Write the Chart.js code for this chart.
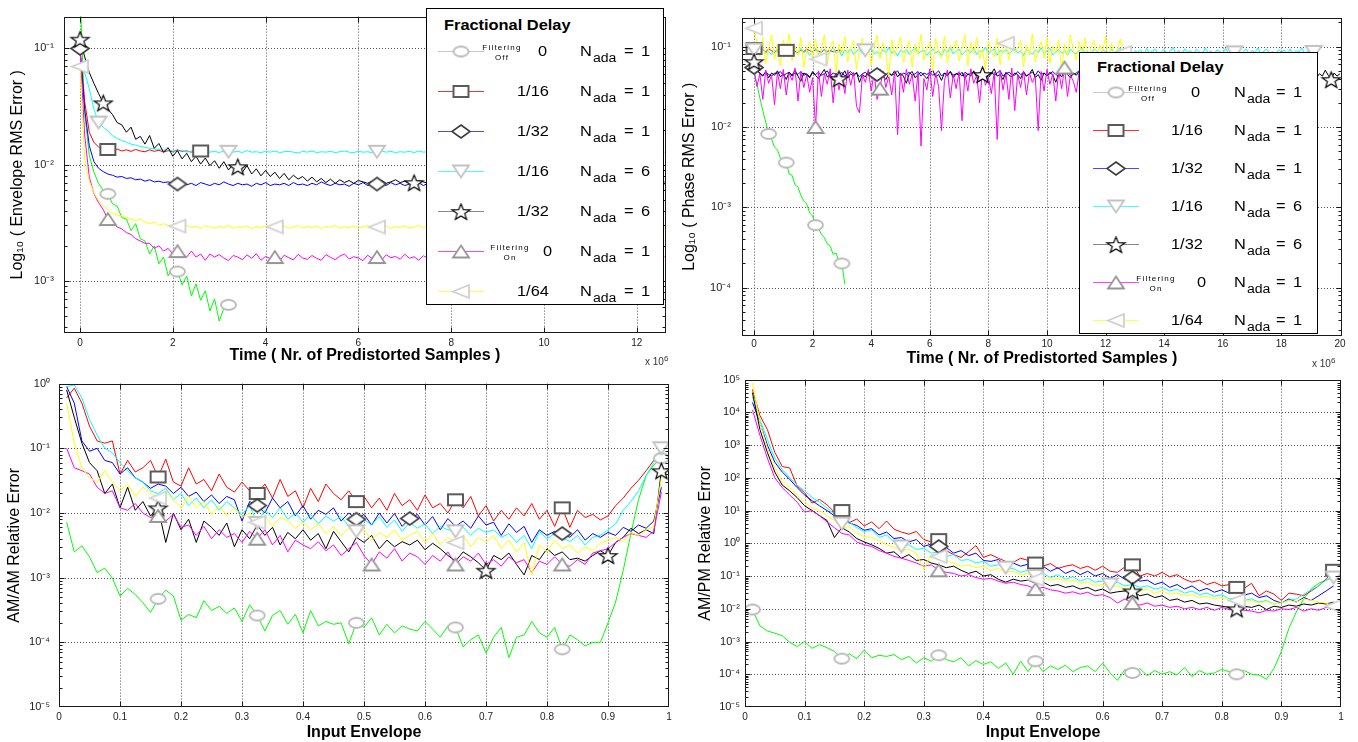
<!DOCTYPE html>
<html>
<head>
<meta charset="utf-8">
<script src="https://cdn.jsdelivr.net/npm/chart.js@4.4.1/dist/chart.umd.min.js"></script>
<style>
  html, body { margin: 0; padding: 0; background: #fff; }
  #page { position: relative; width: 1358px; height: 742px; overflow: hidden;
          font-family: "Liberation Sans", Arial, sans-serif; }
  .pane { position: absolute; }
  .legend { position: absolute; background: #fff; border: 1px solid #000; box-sizing: border-box; }
  .li { position: absolute; white-space: nowrap; line-height: 1; color: #000; }
  .sx { transform: scaleX(1.17); transform-origin: 0 50%; }
  .lg-title { font-weight: bold; font-size: 14px; }
  .lg-txt { font-size: 14px; }
  .lg-sub { font-size: 12px; }
  .lg-note { font-size: 8px; letter-spacing: 1.2px; width: 60px; text-align: center; }
  .mult { position: absolute; font-size: 10px; color: #333; white-space: nowrap; }
  .mult sup { font-size: 8px; }
</style>
</head>
<body>
<div id="page">
  <canvas id="cEnv" class="pane" style="left:0;top:0" width="680" height="368"></canvas>
  <canvas id="cPhase" class="pane" style="left:680px;top:0" width="678" height="368"></canvas>
  <canvas id="cAmAm" class="pane" style="left:0;top:368px" width="680" height="374"></canvas>
  <canvas id="cAmPm" class="pane" style="left:680px;top:368px" width="678" height="374"></canvas>
  <div class="mult" style="left:645px;top:354px">x 10<sup>6</sup></div>
  <div class="mult" style="left:1312px;top:356px">x 10<sup>6</sup></div>
</div>
<script>
// ---------------------------------------------------------------------------
// Sampling grids
// ---------------------------------------------------------------------------
const T_STEP = 0.1;          // time step of the RMS traces, in units of 10^6 samples
const ENV_X0 = 0.0125;       // first input-envelope bin
const ENV_DX = 0.0125;       // input-envelope bin width

// ---------------------------------------------------------------------------
// Envelope RMS error vs time
// ---------------------------------------------------------------------------
const envOff = [0.30,0.028,0.012,0.0086,0.0069,0.0060,0.0056,0.0046,0.0044,0.0035,
  0.0034,0.0027,0.0031,0.0023,0.0022,0.0017,0.0020,0.0014,0.0016,0.0011,
  0.0013,0.0012,0.00092,0.0011,0.00074,0.00094,0.00068,0.00082,0.00055,0.00070,
  0.00045,0.00058,0.00062];
const envD16 = [0.10,0.035,0.019,0.0155,0.0142,0.0137,0.0135,0.0133,0.0136,0.0131,
  0.0134,0.0130,0.0135,0.0131,0.0129,0.0134,0.0130,0.0133,0.0128,0.0132,
  0.0129,0.0134,0.0130,0.0131,0.0128,0.0132,0.0131,0.0130];
const envD32 = [0.10,0.030,0.0145,0.0106,0.0093,0.0087,0.0083,0.0081,0.0078,0.0079,
  0.0076,0.0077,0.0074,0.0075,0.0072,0.0074,0.0071,0.0072,0.0070,0.0071,
  0.0069,0.0068,0.0070,0.0067,0.0069,0.0066,0.0070,0.0068,0.0066,0.0069,
  0.0067,0.0071,0.0068,0.0066,0.0069,0.0067,0.0068,0.0065,0.0069,0.0067,
  0.0070,0.0066,0.0068,0.0067,0.0069,0.0066,0.0070,0.0067,0.0068,0.0066,
  0.0069,0.0067,0.0071,0.0068,0.0066,0.0069,0.0067,0.0068,0.0065,0.0069,
  0.0067,0.0070,0.0066,0.0068,0.0068,0.0069,0.0066,0.0070,0.0067,0.0069,
  0.0066,0.0068,0.0067,0.0070,0.0066,0.0069,0.0068,0.0066,0.0069,0.0067,
  0.0070,0.0067,0.0068,0.0066,0.0069,0.0067,0.0071,0.0068,0.0066,0.0069,
  0.0067,0.0068,0.0066,0.0070,0.0067,0.0069,0.0066,0.0068,0.0067,0.0070,
  0.0066,0.0069,0.0067,0.0068,0.0066,0.0070,0.0067,0.0069,0.0068,0.0066,
  0.0069,0.0067,0.0070,0.0066,0.0068,0.0067,0.0069,0.0066,0.0070,0.0068,
  0.0067,0.0069,0.0066,0.0068,0.0067,0.0070,0.0068];
const envD16N6 = [0.080,0.062,0.045,0.030,0.023,0.021,0.0195,0.0178,0.0168,0.0161,
  0.0156,0.0150,0.0147,0.0143,0.0141,0.0138,0.0136,0.0135,0.0133,0.0134,
  0.0131,0.0130,0.0132,0.0128,0.0131,0.0129,0.0127,0.0131,0.0128,0.0130,
  0.0127,0.0131,0.0129,0.0128,0.0130,0.0127,0.0132,0.0128,0.0129,0.0127,
  0.0130,0.0128,0.0131,0.0127,0.0129,0.0130,0.0128,0.0126,0.0130,0.0128,
  0.0131,0.0127,0.0129,0.0128,0.0130,0.0127,0.0129,0.0131,0.0128,0.0127,
  0.0130,0.0128,0.0129,0.0127,0.0129,0.0131,0.0128,0.0130,0.0127,0.0129,
  0.0128,0.0130,0.0127,0.0131,0.0128,0.0129,0.0127,0.0130,0.0128,0.0131,
  0.0129,0.0127,0.0130,0.0128,0.0126,0.0130,0.0128,0.0131,0.0127,0.0129,
  0.0130,0.0128,0.0129,0.0127,0.0131,0.0128,0.0130,0.0127,0.0129,0.0128,
  0.0131,0.0127,0.0129,0.0130,0.0128,0.0127,0.0130,0.0128,0.0131,0.0129,
  0.0127,0.0130,0.0128,0.0129,0.0131,0.0127,0.0129,0.0128,0.0130,0.0127,
  0.0129,0.0131,0.0128,0.0130,0.0127,0.0129,0.0128];
const envD32N6 = [0.12,0.085,0.062,0.050,0.041,0.034,0.030,0.027,0.023,0.022,
  0.019,0.021,0.0165,0.0175,0.0150,0.0178,0.0138,0.0152,0.0128,0.0140,
  0.0118,0.0132,0.0112,0.0125,0.0106,0.0118,0.0101,0.0114,0.0098,0.0108,
  0.0093,0.0106,0.0090,0.0100,0.0096,0.0086,0.0098,0.0083,0.0092,0.0080,
  0.0089,0.0079,0.0086,0.0076,0.0084,0.0074,0.0081,0.0075,0.0079,0.0072,
  0.0078,0.0071,0.0076,0.0070,0.0075,0.0069,0.0074,0.0070,0.0073,0.0069,
  0.0073,0.0071,0.0069,0.0072,0.0070,0.0073,0.0069,0.0071,0.0074,0.0070,
  0.0072,0.0069,0.0070,0.0073,0.0071,0.0069,0.0072,0.0070,0.0073,0.0069,
  0.0071,0.0073,0.0070,0.0072,0.0069,0.0071,0.0074,0.0070,0.0072,0.0069,
  0.0073,0.0070,0.0071,0.0069,0.0072,0.0070,0.0073,0.0071,0.0069,0.0072,
  0.0070,0.0073,0.0069,0.0071,0.0072,0.0070,0.0074,0.0069,0.0071,0.0070,
  0.0072,0.0069,0.0073,0.0070,0.0071,0.0069,0.0072,0.0070,0.0073,0.0071,
  0.0069,0.0072,0.0070,0.0071,0.0073,0.0070,0.0071];
const envOn = [0.10,0.018,0.0078,0.0056,0.0047,0.0041,0.0034,0.0033,0.0029,0.0028,
  0.0026,0.0025,0.0023,0.0022,0.0021,0.0021,0.0019,0.0020,0.0018,0.0019,
  0.0017,0.0018,0.0017,0.0016,0.0018,0.0016,0.0017,0.0015,0.0017,0.0016,
  0.00168,0.00157,0.00149,0.00165,0.00160,0.00152,0.00167,0.00156,0.00171,0.00150,
  0.00162,0.00155,0.00160,0.00148,0.00166,0.00158,0.00151,0.00169,0.00157,0.00153,
  0.00165,0.00156,0.00150,0.00168,0.00159,0.00152,0.00163,0.00170,0.00154,0.00161,
  0.00157,0.00149,0.00166,0.00155,0.00160,0.00151,0.00167,0.00158,0.00162,0.00153,
  0.00169,0.00156,0.00161,0.00150,0.00164,0.00157,0.00153,0.00168,0.00159,0.00151,
  0.00163,0.00155,0.00170,0.00158,0.00152,0.00166,0.00160,0.00149,0.00164,0.00157,
  0.00151,0.00167,0.00159,0.00154,0.00162,0.00156,0.00169,0.00152,0.00160,0.00165,
  0.00158,0.00150,0.00163,0.00157,0.00168,0.00153,0.00161,0.00156,0.00149,0.00166,
  0.00160,0.00154,0.00167,0.00151,0.00159,0.00164,0.00155,0.00170,0.00158,0.00152,
  0.00163,0.00157,0.00150,0.00166,0.00159,0.00155,0.00161];
const envD64 = [0.070,0.011,0.0072,0.0057,0.0049,0.0044,0.0041,0.0038,0.0037,0.0036,
  0.0035,0.0034,0.0033,0.0034,0.0032,0.0031,0.0032,0.0030,0.0031,0.0030,
  0.00290,0.00296,0.00284,0.00300,0.00287,0.00294,0.00281,0.00298,0.00289,0.00283,
  0.00295,0.00286,0.00301,0.00282,0.00292,0.00288,0.00297,0.00280,0.00293,0.00287,
  0.00299,0.00284,0.00291,0.00286,0.00296,0.00283,0.00290,0.00298,0.00285,0.00293,
  0.00288,0.00297,0.00282,0.00294,0.00289,0.00300,0.00284,0.00292,0.00287,0.00295,
  0.00283,0.00291,0.00298,0.00286,0.00290,0.00285,0.00296,0.00282,0.00293,0.00288,
  0.00297,0.00284,0.00290,0.00299,0.00285,0.00292,0.00288,0.00281,0.00295,0.00289,
  0.00286,0.00294,0.00283,0.00290,0.00298,0.00287,0.00293,0.00284,0.00291,0.00296,
  0.00282,0.00289,0.00297,0.00285,0.00292,0.00288,0.00300,0.00283,0.00290,0.00294,
  0.00287,0.00293,0.00284,0.00296,0.00289,0.00282,0.00291,0.00298,0.00286,0.00292,
  0.00295,0.00283,0.00290,0.00287,0.00299,0.00285,0.00293,0.00288,0.00282,0.00296,
  0.00289,0.00292,0.00286,0.00297,0.00284,0.00290,0.00288];

// ---------------------------------------------------------------------------
// Phase RMS error vs time
// ---------------------------------------------------------------------------
const phOff = [0.050,0.034,0.023,0.016,0.0115,0.0082,0.0071,0.0056,0.0052,0.0041,
  0.0039,0.0036,0.0026,0.0025,0.0019,0.0018,0.0014,0.0012,0.0011,0.00085,
  0.00078,0.00060,0.00055,0.00046,0.00042,0.00035,0.00033,0.00026,0.00027,0.00021,
  0.00020,0.00011];
const phD16 = [0.095,0.090,0.088,0.092,0.086,0.094,0.089,0.085,0.091,0.087,
  0.093,0.090,0.086,0.092,0.088,0.084,0.090,0.087,0.093,0.089,
  0.086,0.091,0.088,0.085,0.092,0.087,0.090,0.086,0.089,0.091,0.087];
const phD32 = [0.055,0.050,0.047,0.044,0.048,0.045,0.043,0.047,0.046,0.049,
  0.044,0.046,0.048,0.043,0.047,0.045,0.049,0.044,0.046,0.042,
  0.047,0.045,0.048,0.044,0.046,0.050,0.043,0.047,0.045,0.044,
  0.048,0.043,0.046,0.049,0.045,0.047,0.042,0.046,0.048,0.044,
  0.046,0.049,0.045,0.043,0.047,0.045,0.048,0.044,0.046,0.050,
  0.043,0.047,0.045,0.048,0.044,0.046,0.049,0.043,0.047,0.045,
  0.048,0.044,0.046,0.050,0.043,0.047,0.045,0.049,0.044,0.046,
  0.047,0.043,0.048,0.045,0.046,0.049,0.044,0.047,0.042,0.046,
  0.045,0.048,0.044,0.047,0.050,0.043,0.046,0.048,0.045,0.044,
  0.049,0.045,0.047,0.043,0.046,0.048,0.044,0.050,0.045,0.047,
  0.044,0.046,0.049,0.045,0.043,0.047,0.046,0.048,0.044,0.045,
  0.047,0.050,0.043,0.046,0.048,0.045,0.044,0.047,0.049,0.043,
  0.046,0.044,0.048,0.045,0.047,0.043,0.049,0.046,0.044,0.047,0.045];
const phD16N6 = [0.092,0.086,0.081,0.094,0.083,0.088,0.079,0.091,0.085,0.097,
  0.082,0.089,0.076,0.093,0.087,0.080,0.095,0.084,0.090,0.078,
  0.088,0.096,0.081,0.087,0.092,0.079,0.086,0.098,0.083,0.089,
  0.077,0.091,0.085,0.094,0.080,0.088,0.093,0.082,0.090,0.086,
  0.095,0.081,0.087,0.079,0.092,0.084,0.098,0.083,0.089,0.076,
  0.090,0.085,0.093,0.080,0.088,0.096,0.082,0.087,0.091,0.078,
  0.086,0.094,0.083,0.089,0.077,0.092,0.085,0.097,0.081,0.088,
  0.093,0.079,0.087,0.091,0.084,0.095,0.080,0.089,0.086,0.099,
  0.082,0.088,0.094,0.078,0.090,0.085,0.092,0.081,0.087,0.096,
  0.083,0.089,0.077,0.093,0.086,0.080,0.091,0.084,0.097,0.082,
  0.088,0.095,0.079,0.086,0.092,0.083,0.090,0.078,0.094,0.085,
  0.081,0.089,0.096,0.084,0.087,0.079,0.093,0.088,0.082,0.091,
  0.086,0.078,0.094,0.083,0.090,0.097,0.081,0.087,0.092,0.080,
  0.089,0.085,0.091,0.077,0.095,0.084,0.088,0.093,0.079,0.086,
  0.092,0.082,0.087,0.098,0.083,0.090,0.078,0.094,0.085,0.089,
  0.080,0.093,0.086,0.081,0.096,0.084,0.088,0.079,0.091,0.087,
  0.083,0.095,0.082,0.089,0.085,0.092,0.078,0.086,0.094,0.081,
  0.090,0.084,0.097,0.080,0.088,0.093,0.083,0.087,0.079,0.092,
  0.085,0.091,0.078,0.094,0.082,0.089,0.086,0.096,0.081,0.088,
  0.083,0.086,0.090];
const phD32N6 = [0.065,0.052,0.046,0.043,0.049,0.041,0.047,0.044,0.050,0.042,
  0.046,0.039,0.048,0.044,0.051,0.043,0.037,0.047,0.045,0.041,
  0.049,0.044,0.040,0.046,0.052,0.042,0.045,0.038,0.047,0.040,
  0.044,0.050,0.041,0.046,0.043,0.048,0.036,0.045,0.042,0.049,
  0.045,0.041,0.047,0.052,0.043,0.039,0.046,0.044,0.050,0.042,
  0.047,0.043,0.035,0.046,0.049,0.041,0.045,0.048,0.044,0.040,
  0.046,0.051,0.042,0.045,0.038,0.047,0.043,0.049,0.041,0.046,
  0.044,0.048,0.040,0.046,0.043,0.050,0.042,0.037,0.045,0.047,
  0.041,0.046,0.053,0.043,0.045,0.039,0.048,0.044,0.042,0.047,
  0.045,0.040,0.049,0.043,0.046,0.052,0.041,0.045,0.038,0.047,
  0.043,0.048,0.044,0.036,0.046,0.042,0.050,0.045,0.041,0.047,
  0.044,0.049,0.042,0.046,0.039,0.045,0.051,0.043,0.047,0.041,
  0.046,0.043,0.048,0.040,0.045,0.050,0.042,0.047,0.044,0.038,
  0.045,0.049,0.043,0.046,0.041,0.048,0.044,0.052,0.042,0.046,
  0.040,0.047,0.044,0.049,0.043,0.037,0.046,0.045,0.050,0.042,
  0.047,0.043,0.046,0.041,0.048,0.044,0.051,0.040,0.045,0.049,
  0.043,0.046,0.039,0.047,0.044,0.050,0.042,0.045,0.048,0.041,
  0.046,0.052,0.043,0.045,0.040,0.048,0.044,0.047,0.042,0.049,
  0.044,0.041,0.047,0.045,0.050,0.043,0.038,0.046,0.048,0.042,
  0.045,0.049,0.041,0.046,0.043,0.051,0.044,0.039,0.047,0.043,
  0.046];
const phOn = [0.050,0.032,0.046,0.022,0.051,0.035,0.044,0.019,0.048,0.030,
  0.052,0.025,0.047,0.038,0.054,0.021,0.049,0.031,0.045,0.027,
  0.041,0.010,0.050,0.024,0.046,0.034,0.053,0.020,0.047,0.029,
  0.044,0.026,0.051,0.033,0.048,0.018,0.015,0.045,0.036,0.052,
  0.028,0.047,0.022,0.030,0.050,0.031,0.043,0.025,0.049,0.008,
  0.046,0.027,0.052,0.034,0.045,0.021,0.048,0.0058,0.040,0.029,
  0.053,0.024,0.047,0.032,0.009,0.038,0.051,0.023,0.045,0.030,
  0.049,0.012,0.046,0.028,0.053,0.035,0.044,0.020,0.050,0.033,
  0.042,0.026,0.048,0.007,0.051,0.029,0.046,0.022,0.054,0.016,
  0.045,0.031,0.050,0.025,0.047,0.036,0.043,0.009,0.049,0.028,
  0.052,0.034,0.046,0.021,0.050,0.030,0.055,0.024,0.044,0.037,
  0.027,0.049,0.0065,0.035,0.051,0.023,0.047,0.032,0.025,0.045,
  0.053,0.028,0.048,0.033,0.050,0.019,0.046,0.036,0.030,0.047,0.048];
const phD64 = [0.17,0.11,0.075,0.13,0.062,0.095,0.14,0.07,0.105,0.058,
  0.12,0.085,0.145,0.066,0.1,0.078,0.13,0.055,0.092,0.115,
  0.072,0.125,0.07,0.088,0.14,0.06,0.098,0.118,0.048,0.108,
  0.082,0.135,0.065,0.1,0.12,0.052,0.09,0.128,0.074,0.11,
  0.058,0.098,0.138,0.07,0.112,0.085,0.042,0.122,0.078,0.102,
  0.132,0.064,0.094,0.118,0.056,0.108,0.08,0.142,0.068,0.096,
  0.115,0.05,0.126,0.086,0.072,0.135,0.062,0.104,0.09,0.12,
  0.066,0.098,0.14,0.058,0.112,0.082,0.13,0.07,0.094,0.052,
  0.118,0.088,0.074,0.128,0.06,0.1,0.11,0.068,0.136,0.084,
  0.096,0.12,0.056,0.105,0.078,0.145,0.064,0.092,0.116,0.072,
  0.13,0.062,0.1,0.085,0.122,0.05,0.108,0.076,0.14,0.09,
  0.068,0.115,0.082,0.128,0.058,0.098,0.12,0.07,0.104,0.088,
  0.135,0.066,0.11,0.078,0.092,0.125,0.085,0.098];

// ---------------------------------------------------------------------------
// AM/AM relative error vs input envelope
// ---------------------------------------------------------------------------
const amOff = [0.0072,0.0025,0.0031,0.0021,0.0012,0.0014,0.00098,0.00052,0.00068,0.00055,
  0.00041,0.00029,0.00047,0.00064,0.00052,0.00022,0.00027,0.00024,0.00044,0.00031,
  0.00036,0.00028,0.00034,0.00021,0.00038,0.00026,0.00015,0.00026,0.00031,0.00019,
  0.00027,0.00014,0.00031,0.00018,0.00021,0.00019,0.00020,0.000095,0.00020,0.00017,
  0.00024,0.00013,0.00019,0.00014,0.00018,0.00016,0.00015,0.00021,0.00016,0.00012,
  0.00018,0.00017,0.000085,0.00011,0.00013,0.000068,0.00012,0.00017,0.000058,0.00012,
  0.00013,0.00021,0.00014,0.00012,0.00017,0.000078,0.00013,0.00011,0.000088,0.00010,
  0.00010,0.00020,0.00042,0.0013,0.0048,0.016,0.038,0.055,0.070];
const amD16 = [0.60,0.85,0.50,0.22,0.13,0.12,0.13,0.040,0.065,0.043,
  0.050,0.065,0.036,0.068,0.030,0.026,0.050,0.028,0.033,0.022,
  0.040,0.025,0.021,0.030,0.022,0.020,0.028,0.017,0.033,0.018,
  0.022,0.012,0.024,0.015,0.028,0.020,0.016,0.022,0.015,0.018,
  0.012,0.017,0.011,0.020,0.013,0.016,0.011,0.019,0.012,0.014,
  0.010,0.016,0.012,0.018,0.009,0.013,0.0075,0.011,0.008,0.012,
  0.009,0.014,0.008,0.011,0.0062,0.012,0.006,0.011,0.0085,0.0095,
  0.0078,0.009,0.013,0.017,0.024,0.032,0.045,0.065,0.080];
const amD32 = [0.90,0.50,0.13,0.090,0.10,0.065,0.060,0.040,0.050,0.035,
  0.030,0.024,0.028,0.026,0.020,0.025,0.018,0.021,0.015,0.019,
  0.014,0.018,0.016,0.0075,0.015,0.013,0.010,0.017,0.012,0.015,
  0.009,0.013,0.008,0.011,0.0095,0.012,0.0075,0.010,0.008,0.0095,
  0.0065,0.010,0.007,0.0098,0.0062,0.0082,0.0095,0.0065,0.0088,0.0055,
  0.0082,0.0062,0.0075,0.0058,0.009,0.0065,0.0072,0.0045,0.0068,0.005,
  0.0062,0.0035,0.0055,0.0045,0.0052,0.0048,0.0042,0.0055,0.0038,0.0048,
  0.0042,0.005,0.0045,0.006,0.0052,0.0065,0.0058,0.0075,0.025];
const amD16N6 = [0.90,0.95,0.60,0.28,0.16,0.10,0.085,0.060,0.045,0.035,
  0.030,0.022,0.020,0.024,0.016,0.020,0.013,0.017,0.012,0.016,
  0.011,0.015,0.012,0.0095,0.013,0.007,0.011,0.0085,0.012,0.008,
  0.010,0.0072,0.0095,0.0068,0.009,0.0075,0.0088,0.0062,0.0052,0.008,
  0.0065,0.0088,0.006,0.0078,0.0052,0.0072,0.0058,0.0068,0.0048,0.0062,
  0.0055,0.0052,0.006,0.0045,0.0058,0.005,0.0055,0.0042,0.0048,0.0035,
  0.0045,0.0028,0.0052,0.004,0.0048,0.0042,0.0036,0.0045,0.0032,0.0042,
  0.0045,0.0055,0.0068,0.011,0.015,0.022,0.038,0.060,0.10];
const amD32N6 = [0.80,0.30,0.12,0.060,0.045,0.020,0.028,0.012,0.025,0.011,
  0.015,0.009,0.012,0.0035,0.010,0.0055,0.008,0.0035,0.0075,0.006,
  0.0045,0.007,0.003,0.0055,0.004,0.0065,0.0045,0.006,0.0032,0.005,
  0.004,0.0055,0.0038,0.0048,0.0028,0.0052,0.0036,0.0025,0.0042,0.0035,
  0.0045,0.0028,0.0038,0.003,0.0036,0.0032,0.0038,0.0027,0.0034,0.0028,
  0.0022,0.0018,0.0025,0.0021,0.0017,0.0013,0.0022,0.0019,0.0024,0.0016,
  0.0011,0.0022,0.0019,0.0028,0.0022,0.0025,0.0019,0.002,0.0018,0.0022,
  0.0026,0.0022,0.0035,0.0042,0.0058,0.0048,0.0055,0.0048,0.045];
const amOn = [0.10,0.050,0.045,0.040,0.025,0.020,0.022,0.012,0.011,0.014,
  0.010,0.0085,0.009,0.0075,0.0095,0.006,0.0065,0.0045,0.0062,0.004,
  0.0055,0.0042,0.0048,0.0035,0.0052,0.004,0.0055,0.0032,0.0045,0.0025,
  0.0038,0.0032,0.0028,0.0036,0.0026,0.0032,0.0022,0.0028,0.0035,0.0022,
  0.0016,0.0025,0.002,0.0028,0.0018,0.0024,0.0021,0.0016,0.0022,0.0018,
  0.0025,0.0016,0.0021,0.0018,0.0024,0.0016,0.0019,0.0015,0.0021,0.0017,
  0.0019,0.0012,0.0018,0.0016,0.0021,0.0016,0.0015,0.0019,0.0016,0.0024,
  0.0026,0.0028,0.0035,0.0042,0.0048,0.0045,0.0042,0.0052,0.021];
const amD64 = [0.50,0.12,0.050,0.035,0.030,0.045,0.030,0.022,0.028,0.018,
  0.025,0.020,0.017,0.022,0.016,0.012,0.018,0.012,0.015,0.0095,
  0.013,0.009,0.012,0.0085,0.010,0.0072,0.009,0.0062,0.0085,0.0075,
  0.0058,0.0072,0.0055,0.0068,0.0048,0.0062,0.0045,0.0058,0.005,0.0055,
  0.0038,0.005,0.0042,0.0055,0.0038,0.0045,0.0052,0.0035,0.0048,0.0032,
  0.0042,0.0035,0.0045,0.003,0.0042,0.0035,0.0045,0.0028,0.0038,0.0025,
  0.0035,0.0011,0.0032,0.0025,0.0038,0.0028,0.0032,0.0024,0.003,0.0026,
  0.0034,0.0038,0.0042,0.0036,0.005,0.0045,0.0055,0.0062,0.035];

// ---------------------------------------------------------------------------
// AM/PM relative error vs input envelope
// ---------------------------------------------------------------------------
const pmOff = [0.0095,0.003,0.0021,0.0018,0.0015,0.00095,0.0007,0.001,0.00062,0.0008,
  0.00065,0.0005,0.0003,0.00042,0.0003,0.00055,0.00032,0.00038,0.00035,0.0004,
  0.00028,0.00035,0.00022,0.00032,0.00025,0.00038,0.00028,0.00024,0.00032,0.00018,
  0.00026,0.0002,0.00024,0.00015,0.00022,0.0001,0.00025,0.00012,0.00025,0.00012,
  0.00018,0.00014,0.00019,0.00012,0.00016,0.00018,0.00012,0.00022,0.00011,0.000065,
  0.00014,0.00011,0.00015,0.00009,0.00013,0.0001,0.00012,0.000095,0.00016,0.000085,
  0.00013,0.0001,0.00011,0.00014,0.00012,0.0001,0.00013,0.0001,0.000095,0.00007,
  0.00015,0.0005,0.0025,0.008,0.02,0.04,0.06,0.075,0.09];
const pmD16 = [50000,8000,3000,600,220,200,56,35,17,22,
  15,9,10,4.3,5.5,3.4,4.5,2.8,4.8,2.7,
  2.2,1.9,2.3,1.3,1.1,1.3,0.6,0.45,0.37,0.55,
  0.85,0.37,0.45,0.35,0.28,0.26,0.35,0.3,0.25,0.2,
  0.24,0.17,0.2,0.22,0.17,0.2,0.15,0.2,0.14,0.13,
  0.19,0.22,0.1,0.12,0.1,0.13,0.095,0.11,0.08,0.065,
  0.075,0.055,0.065,0.05,0.055,0.045,0.042,0.06,0.025,0.035,
  0.028,0.018,0.03,0.028,0.025,0.035,0.05,0.08,0.15];
const pmD32 = [20000,5000,1000,300,150,90,50,30,20,14,
  10,7,5,4.2,3.5,2.5,2.8,1.8,2.2,1.4,
  1.5,1.1,1.3,0.8,0.95,0.8,0.75,0.5,0.6,0.42,
  0.5,0.3,0.28,0.32,0.22,0.25,0.2,0.23,0.17,0.2,
  0.14,0.18,0.12,0.15,0.11,0.14,0.1,0.12,0.085,0.11,
  0.08,0.09,0.07,0.075,0.055,0.065,0.045,0.055,0.04,0.05,
  0.035,0.042,0.032,0.038,0.03,0.034,0.026,0.03,0.022,0.025,
  0.018,0.015,0.02,0.016,0.022,0.018,0.025,0.035,0.05];
const pmD16N6 = [30000,6000,1500,400,180,100,60,40,25,18,
  12,8,4,4.5,3,2.3,2.6,1.5,1.8,1.1,
  0.8,0.9,0.65,0.7,0.5,0.55,0.4,0.45,0.3,0.32,
  0.25,0.28,0.2,0.22,0.18,0.17,0.13,0.15,0.1,0.12,
  0.09,0.11,0.08,0.095,0.07,0.085,0.065,0.07,0.055,0.065,
  0.05,0.055,0.045,0.05,0.04,0.045,0.035,0.04,0.03,0.035,
  0.027,0.03,0.024,0.027,0.02,0.022,0.018,0.02,0.016,0.018,
  0.014,0.015,0.018,0.02,0.028,0.038,0.05,0.075,0.09];
const pmD32N6 = [40000,3000,600,150,60,40,25,14,10,7,
  5,1.5,3,2.2,1.4,1.1,0.9,0.7,0.5,0.55,
  0.35,0.45,0.3,0.32,0.25,0.22,0.18,0.2,0.15,0.12,
  0.14,0.1,0.11,0.08,0.065,0.08,0.07,0.075,0.06,0.065,
  0.05,0.055,0.045,0.05,0.04,0.045,0.035,0.04,0.03,0.033,
  0.035,0.035,0.025,0.028,0.022,0.025,0.018,0.02,0.016,0.018,
  0.014,0.015,0.013,0.012,0.011,0.01,0.012,0.011,0.013,0.0095,
  0.012,0.011,0.013,0.012,0.014,0.013,0.015,0.014,0.016];
const pmOn = [12000,2000,400,100,50,30,18,9,10,7,
  4.5,3,2,1.8,1.1,0.9,0.8,0.6,0.5,0.4,
  0.35,0.3,0.25,0.2,0.22,0.15,0.13,0.12,0.1,0.11,
  0.09,0.08,0.085,0.07,0.06,0.065,0.055,0.05,0.04,0.045,
  0.038,0.035,0.03,0.033,0.028,0.032,0.025,0.027,0.022,0.015,
  0.02,0.015,0.013,0.015,0.012,0.013,0.011,0.012,0.01,0.011,
  0.0095,0.011,0.009,0.011,0.0095,0.01,0.009,0.0085,0.0075,0.009,
  0.0085,0.01,0.0095,0.011,0.0085,0.01,0.009,0.011,0.01];
const pmD64 = [80000,5000,800,200,80,50,30,18,12,10,
  7,5,3,3.2,2,1.6,1.5,1.2,0.9,0.75,
  0.6,0.65,0.5,0.16,0.45,0.4,0.3,0.25,0.2,0.22,
  0.18,0.2,0.15,0.17,0.13,0.14,0.11,0.12,0.08,0.09,
  0.075,0.085,0.07,0.075,0.06,0.065,0.05,0.055,0.045,0.05,
  0.04,0.045,0.035,0.04,0.03,0.035,0.028,0.03,0.025,0.027,
  0.022,0.024,0.02,0.022,0.018,0.018,0.017,0.018,0.015,0.017,
  0.014,0.015,0.018,0.016,0.02,0.018,0.016,0.015,0.012];

// Sample indices that carry a marker symbol, per panel and series
const envMarks = { off:[6,21,32], d16:[6,26], d32:[0,21,64], d16n6:[4,32,64],
                   d32n6:[0,5,34,72], on:[6,21,42,64], d64:[0,21,42,64] };
const phMarks  = { off:[5,11,21,30], d16:[0,11], d32:[0,42], d16n6:[0,38,164,191],
                   d32n6:[0,29,78,197], on:[21,43,106], d64:[0,22,86,126] };
const amMarks  = { off:[12,25,38,51,65,78], d16:[12,25,38,51,65], d32:[25,38,45,65],
                   d16n6:[25,38,51,78], d32n6:[12,55,71,78], on:[12,25,40,51,65], d64:[12,25,51] };
const pmMarks  = { off:[0,12,25,38,51,65], d16:[12,25,38,51,65,78], d32:[25,51],
                   d16n6:[12,20,34,38,48,78], d32n6:[51,65], on:[25,38,51], d64:[25,38,65,78] };

// Legend entries: fractional delay and adaptation count
const legendRows = [
  { key:'off',   note:['Filtering','Off'], frac:'0',    n:'1' },
  { key:'d16',   frac:'1/16', n:'1' },
  { key:'d32',   frac:'1/32', n:'1' },
  { key:'d16n6', frac:'1/16', n:'6' },
  { key:'d32n6', frac:'1/32', n:'6' },
  { key:'on',    note:['Filtering','On'],  frac:'0',    n:'1' },
  { key:'d64',   frac:'1/64', n:'1' }
];

// ---------------------------------------------------------------------------
// Marker symbols (open shapes with white face)
// ---------------------------------------------------------------------------
function makeMarker(kind, color, w, h, lw) {
  const c = document.createElement('canvas');
  c.width = Math.ceil(w + 4); c.height = Math.ceil(h + 4);
  const g = c.getContext('2d');
  g.translate(c.width / 2, c.height / 2);
  const a = w / 2, b = h / 2;
  g.beginPath();
  if (kind === 'circle') g.ellipse(0, 0, a, b, 0, 0, Math.PI * 2);
  else if (kind === 'square') g.rect(-a, -b, w, h);
  else if (kind === 'diamond') { g.moveTo(0, -b); g.lineTo(a, 0); g.lineTo(0, b); g.lineTo(-a, 0); g.closePath(); }
  else if (kind === 'tup') { g.moveTo(0, -b); g.lineTo(a, b); g.lineTo(-a, b); g.closePath(); }
  else if (kind === 'tdown') { g.moveTo(-a, -b); g.lineTo(a, -b); g.lineTo(0, b); g.closePath(); }
  else if (kind === 'tleft') { g.moveTo(-a, 0); g.lineTo(a, -b); g.lineTo(a, b); g.closePath(); }
  else if (kind === 'star') {
    for (let k = 0; k < 10; k++) {
      const r = k % 2 ? 0.42 : 1;
      const ang = -Math.PI / 2 + k * Math.PI / 5;
      g.lineTo(Math.cos(ang) * r * a, Math.sin(ang) * r * b + 1);
    }
    g.closePath();
  }
  g.fillStyle = '#fff'; g.fill();
  g.lineWidth = lw; g.strokeStyle = color; g.lineJoin = 'miter'; g.stroke();
  return c;
}

const STYLES = {
  off:   { color:'#00ff00', legend:'#c8c8c8', marker: makeMarker('circle',  '#b8b8b8', 15, 10, 1.8) },
  d16:   { color:'#ff0000', legend:'#ff3030', marker: makeMarker('square',  '#5a5a5a', 15, 11, 2) },
  d32:   { color:'#0000ff', legend:'#4848ff', marker: makeMarker('diamond', '#3c3c3c', 18, 13, 1.6) },
  d16n6: { color:'#00ffff', legend:'#48ffff', marker: makeMarker('tdown',   '#c2c2c2', 16, 12, 1.8) },
  d32n6: { color:'#000000', legend:'#888888', marker: makeMarker('star',    '#000000', 19, 17, 1.2) },
  on:    { color:'#ff00ff', legend:'#ff40ff', marker: makeMarker('tup',     '#959595', 16, 12, 1.8) },
  d64:   { color:'#ffff00', legend:'#ffff50', marker: makeMarker('tleft',   '#d0d0d0', 16, 13, 1.8) }
};
const KEYS = ['off','d16','d32','d16n6','d32n6','on','d64'];

// ---------------------------------------------------------------------------
// Dataset and chart helpers
// ---------------------------------------------------------------------------
function buildDatasets(series, x0, dx, marks) {
  const lines = [], markers = [];
  KEYS.forEach((k, i) => {
    const pts = series[k].map((y, j) => ({ x: x0 + j * dx, y }));
    lines.push({ data: pts, borderColor: STYLES[k].color, borderWidth: 1, pointRadius: 0,
                 tension: 0, order: 20 - i });
    markers.push({ data: (marks[k] || []).map(j => pts[j]), showLine: false,
                   pointStyle: STYLES[k].marker, pointRadius: 6, order: 7 - i });
  });
  return lines.concat(markers);
}

const SUP = { '-':'⁻','0':'⁰','1':'¹','2':'²','3':'³','4':'⁴','5':'⁵','6':'⁶','7':'⁷','8':'⁸','9':'⁹' };
function decadeLabel(v) {
  const l = Math.log10(v), e = Math.round(l);
  if (Math.abs(l - e) > 1e-6) return '';
  return '10' + String(e).split('').map(c => SUP[c]).join('');
}
function plainLabel(v) { return String(Math.round(v * 10) / 10); }

function decadeValues(scale) {
  const out = [];
  for (let e = Math.floor(Math.log10(scale.min)); e <= Math.ceil(Math.log10(scale.max)); e++)
    for (let d = 1; d <= 9; d++) {
      const v = d * Math.pow(10, e);
      if (v >= scale.min && v <= scale.max) out.push({ v, major: d === 1 });
    }
  return out;
}

// Dotted grid under the traces; box and inward tick marks over them
const frameTicks = {
  id: 'frameTicks',
  beforeDatasetsDraw(chart) {
    const { ctx, chartArea: a, scales: { x, y } } = chart;
    ctx.save();
    ctx.strokeStyle = '#505050'; ctx.lineWidth = 1; ctx.setLineDash([1, 2]);
    ctx.beginPath();
    x.ticks.forEach(t => {
      const px = Math.round(x.getPixelForValue(t.value)) + 0.5;
      if (px > a.left + 2 && px < a.right - 2) { ctx.moveTo(px, a.top); ctx.lineTo(px, a.bottom); }
    });
    decadeValues(y).filter(d => d.major).forEach(d => {
      const py = Math.round(y.getPixelForValue(d.v)) + 0.5;
      if (py > a.top + 2 && py < a.bottom - 2) { ctx.moveTo(a.left, py); ctx.lineTo(a.right, py); }
    });
    ctx.stroke();
    ctx.restore();
  },
  afterDatasetsDraw(chart) {
    const { ctx, chartArea: a, scales: { x, y } } = chart;
    const L = Math.round(a.left) + 0.5, R = Math.round(a.right) - 0.5;
    const T = Math.round(a.top) + 0.5, B = Math.round(a.bottom) - 0.5;
    ctx.save();
    ctx.strokeStyle = '#1a1a1a'; ctx.lineWidth = 1;
    ctx.beginPath();
    x.ticks.forEach(t => {
      const px = Math.round(x.getPixelForValue(t.value)) + 0.5;
      if (px > L + 1 && px < R - 1) { ctx.moveTo(px, B); ctx.lineTo(px, B - 5); ctx.moveTo(px, T); ctx.lineTo(px, T + 5); }
    });
    decadeValues(y).forEach(d => {
      const py = Math.round(y.getPixelForValue(d.v)) + 0.5;
      const len = d.major ? 5 : 3;
      if (py > T + 1 && py < B - 1) { ctx.moveTo(L, py); ctx.lineTo(L + len, py); ctx.moveTo(R, py); ctx.lineTo(R - len, py); }
    });
    ctx.stroke();
    ctx.strokeRect(L, T, R - L, B - T);
    ctx.restore();
  }
};

Chart.defaults.font.family = '"Liberation Sans", Arial, sans-serif';
Chart.defaults.color = '#222';

function makePanel(id, p) {
  return new Chart(document.getElementById(id), {
    type: 'line',
    data: { datasets: p.datasets },
    options: {
      responsive: false, animation: false, events: [],
      layout: { padding: { top: p.pad[0], right: p.pad[1], left: 0, bottom: 0 } },
      plugins: { legend: { display: false }, tooltip: { enabled: false } },
      scales: {
        x: {
          type: 'linear', min: p.x.min, max: p.x.max,
          grid: { display: false, drawTicks: false }, border: { display: false },
          ticks: { stepSize: p.x.step, includeBounds: false, autoSkip: false, maxRotation: 0,
                   padding: p.x.pad, font: { size: 10 }, color: '#222', callback: v => plainLabel(v) },
          title: { display: true, text: p.x.title, color: '#000',
                   font: { size: 16, weight: 'bold' }, padding: { top: 0, bottom: p.x.tpad } },
          afterFit(s) { s.height = p.x.h; }
        },
        y: {
          type: 'logarithmic', min: p.y.min, max: p.y.max,
          grid: { display: false, drawTicks: false }, border: { display: false },
          ticks: { autoSkip: false, padding: p.y.pad, font: { size: 11 }, color: '#222',
                   callback: v => decadeLabel(v) },
          title: { display: true, text: p.y.title, color: '#000',
                   font: { size: 16 }, padding: { top: p.y.tpad, bottom: 0 } },
          afterFit(s) { s.width = p.y.w; }
        }
      }
    },
    plugins: [frameTicks]
  });
}

// ---------------------------------------------------------------------------
// Panels
// ---------------------------------------------------------------------------
makePanel('cEnv', {
  datasets: buildDatasets({ off:envOff, d16:envD16, d32:envD32, d16n6:envD16N6, d32n6:envD32N6, on:envOn, d64:envD64 },
                          0, T_STEP, envMarks),
  pad: [7, 14],
  x: { min: -0.345, max: 12.63, step: 2, pad: 4, h: 35, tpad: 3, title: 'Time ( Nr. of Predistorted Samples )' },
  y: { min: 3.55e-4, max: 0.188, w: 64, pad: 10, tpad: 8, title: 'Log₁₀ ( Envelope RMS Error )' }
});
makePanel('cPhase', {
  datasets: buildDatasets({ off:phOff, d16:phD16, d32:phD32, d16n6:phD16N6, d32n6:phD32N6, on:phOn, d64:phD64 },
                          0, T_STEP, phMarks),
  pad: [7, 16],
  x: { min: -0.41, max: 20.07, step: 2, pad: 2, h: 32, tpad: 0, title: 'Time ( Nr. of Predistorted Samples )' },
  y: { min: 2.5e-5, max: 0.23, w: 62, pad: 11, tpad: 0, title: 'Log₁₀ ( Phase RMS Error )' }
});
makePanel('cAmAm', {
  datasets: buildDatasets({ off:amOff, d16:amD16, d32:amD32, d16n6:amD16N6, d32n6:amD32N6, on:amOn, d64:amD64 },
                          ENV_X0, ENV_DX, amMarks),
  pad: [9, 11],
  x: { min: 0, max: 1, step: 0.1, pad: 4, h: 35, tpad: 0, title: 'Input Envelope' },
  y: { min: 1e-5, max: 1, w: 59, pad: 9, tpad: 5, title: 'AM/AM Relative Error' }
});
makePanel('cAmPm', {
  datasets: buildDatasets({ off:pmOff, d16:pmD16, d32:pmD32, d16n6:pmD16N6, d32n6:pmD32N6, on:pmOn, d64:pmD64 },
                          ENV_X0, ENV_DX, pmMarks),
  pad: [10, 17],
  x: { min: 0, max: 1, step: 0.1, pad: 4, h: 35, tpad: 0, title: 'Input Envelope' },
  y: { min: 1e-5, max: 1e5, w: 65, pad: 5, tpad: 16, title: 'AM/PM Relative Error' }
});

// ---------------------------------------------------------------------------
// Legends
// ---------------------------------------------------------------------------
function addText(parent, cls, html, left, top) {
  const s = document.createElement('div');
  s.className = 'li ' + cls;
  s.innerHTML = html;
  s.style.left = left + 'px'; s.style.top = top + 'px';
  parent.appendChild(s);
  return s;
}

function buildLegend(L) {
  const box = document.createElement('div');
  box.className = 'legend';
  Object.assign(box.style, { left: L.left + 'px', top: L.top + 'px', width: L.w + 'px', height: L.h + 'px' });
  addText(box, 'lg-title sx', 'Fractional Delay', 17, L.titleY - 8);
  legendRows.forEach((r, i) => {
    const cy = L.row0 + i * L.gap;
    const st = STYLES[r.key];
    const c = document.createElement('canvas');
    c.width = 52; c.height = 22; c.className = 'li';
    c.style.left = (L.lineX - 2) + 'px'; c.style.top = (cy - 11) + 'px';
    const g = c.getContext('2d');
    g.strokeStyle = st.legend; g.lineWidth = 1;
    g.beginPath(); g.moveTo(2, 11.5); g.lineTo(48, 11.5); g.stroke();
    g.drawImage(st.marker, 25 - st.marker.width / 2, 11.5 - st.marker.height / 2);
    box.appendChild(c);
    if (r.note) {
      const nx = (i === 0 ? L.noteX[0] : L.noteX[1]) - 30;
      addText(box, 'lg-note', r.note[0], nx, cy - 7);
      addText(box, 'lg-note', r.note[1], nx, cy + 3);
      addText(box, 'lg-txt sx', r.frac, i === 0 ? L.zeroX[0] : L.zeroX[1], cy - 7);
    } else {
      addText(box, 'lg-txt sx', r.frac, L.fracX, cy - 7);
    }
    addText(box, 'lg-txt sx', 'N', L.nX, cy - 7);
    addText(box, 'lg-sub sx', 'ada', L.nX + 13, cy + 1);
    addText(box, 'lg-txt sx', '=', L.eqX, cy - 7);
    addText(box, 'lg-txt sx', r.n, L.eqX + 17, cy - 7);
  });
  document.getElementById('page').appendChild(box);
}

buildLegend({ left: 426, top: 8, w: 238, h: 297, titleY: 17, row0: 42, gap: 40,
              lineX: 11, noteX: [75, 83], zeroX: [111, 116], fracX: 90, nX: 153, eqX: 197 });
buildLegend({ left: 1079, top: 52, w: 239, h: 282, titleY: 15, row0: 39, gap: 38,
              lineX: 13, noteX: [68, 76], zeroX: [111, 117], fracX: 91, nX: 154, eqX: 196 });
</script>
</body>
</html>
